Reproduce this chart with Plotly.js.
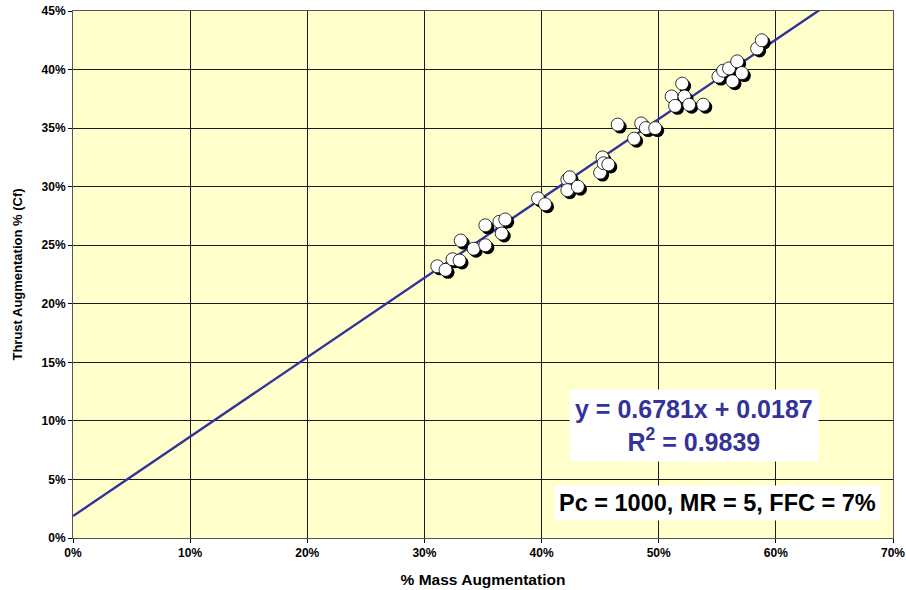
<!DOCTYPE html>
<html>
<head>
<meta charset="utf-8">
<script src="https://cdn.plot.ly/plotly-3.0.1.min.js"></script>
<style>html,body{margin:0;padding:0;background:#fff;}#chart{width:906px;height:590px;}</style>
</head>
<body>
<div id="chart"></div>
<script>
// Data (fractions)
const massAug = [0.311,0.318,0.324,0.330,0.331,0.342,0.352,0.352,0.364,0.366,0.369,
  0.397,0.403,0.422,0.424,0.422,0.431,0.450,0.452,0.453,0.457,
  0.465,0.479,0.485,0.489,0.497,0.511,0.514,0.520,0.522,0.526,0.538,
  0.551,0.555,0.560,0.563,0.567,0.571,0.584,0.588];
const thrustAug = [0.232,0.229,0.238,0.237,0.254,0.247,0.267,0.250,0.270,0.260,0.272,
  0.290,0.285,0.306,0.308,0.297,0.300,0.312,0.325,0.320,0.319,
  0.353,0.341,0.354,0.350,0.350,0.377,0.369,0.388,0.377,0.370,0.370,
  0.394,0.399,0.401,0.390,0.407,0.397,0.418,0.425];
const slope = 0.6781, intercept = 0.0187, r2 = 0.9839;
const trendX = [0, 0.70];
const xTicks = [0,0.1,0.2,0.3,0.4,0.5,0.6,0.7];
const yTicks = [0,0.05,0.1,0.15,0.2,0.25,0.3,0.35,0.4,0.45];

const xRange = [0, 0.70], yRange = [0, 0.45];
const plotW = 906 - 73 - 13, plotH = 590 - 11 - 52;
const dx = 2.5 * (xRange[1]-xRange[0]) / plotW;
const dy = 2.5 * (yRange[1]-yRange[0]) / plotH;

const traces = [
  {x: trendX, y: trendX.map(v => slope*v + intercept), mode: 'lines',
   line: {color: '#333399', width: 2.4}, hoverinfo: 'skip', cliponaxis: true},
  {x: massAug.map(v => v + dx), y: thrustAug.map(v => v - dy), mode: 'markers',
   marker: {size: 13, color: '#000000'}, hoverinfo: 'skip'},
  {x: massAug, y: thrustAug, mode: 'markers',
   marker: {size: 13, color: '#ffffff', line: {color: '#000000', width: 0.8}}}
];

const tickFont = {family: 'Liberation Sans, Arial', size: 12, color: '#000', weight: 'bold'};
const layout = {
  width: 906, height: 590,
  margin: {l: 73, r: 13, t: 11, b: 52},
  paper_bgcolor: '#ffffff', plot_bgcolor: '#FFFFCC',
  showlegend: false,
  xaxis: {range: xRange, tickvals: xTicks, tickformat: '.0%', showgrid: true,
    gridcolor: '#1a1a1a', gridwidth: 1, zeroline: false, showline: true, linecolor: '#555', linewidth: 1,
    mirror: true, ticks: 'outside', ticklen: 4, tickcolor: '#000', tickfont: tickFont,
    title: {text: '% Mass Augmentation', font: {family: 'Liberation Sans, Arial', size: 15.5, weight: 'bold', color: '#000'}, standoff: 14}},
  yaxis: {range: yRange, tickvals: yTicks, tickformat: '.0%', showgrid: true,
    gridcolor: '#1a1a1a', gridwidth: 1, zeroline: false, showline: true, linecolor: '#555', linewidth: 1,
    mirror: true, ticks: 'outside', ticklen: 4, tickcolor: '#000', tickfont: tickFont,
    title: {text: 'Thrust Augmentation % (Cf)', font: {family: 'Liberation Sans, Arial', size: 13, weight: 'bold', color: '#000'}, standoff: 16}},
  annotations: [
    {xref: 'paper', yref: 'paper', x: (694-73)/plotW, y: (538-425)/plotH, xanchor: 'center', yanchor: 'middle',
     text: 'y = ' + slope + 'x + ' + intercept + '<br>R<sup>2</sup> = ' + r2, showarrow: false,
     font: {family: 'Liberation Sans, Arial', size: 25, weight: 'bold', color: '#333399'},
     bgcolor: '#ffffff', borderpad: 5, align: 'center'},
    {xref: 'paper', yref: 'paper', x: (717-73)/plotW, y: (538-503)/plotH, xanchor: 'center', yanchor: 'middle',
     text: 'Pc = 1000, MR = 5, FFC = 7%', showarrow: false,
     font: {family: 'Liberation Sans, Arial', size: 23.5, weight: 'bold', color: '#000'},
     bgcolor: '#ffffff', borderpad: 4}
  ]
};
Plotly.newPlot('chart', traces, layout, {displayModeBar: false, staticPlot: true});
</script>
</body>
</html>
